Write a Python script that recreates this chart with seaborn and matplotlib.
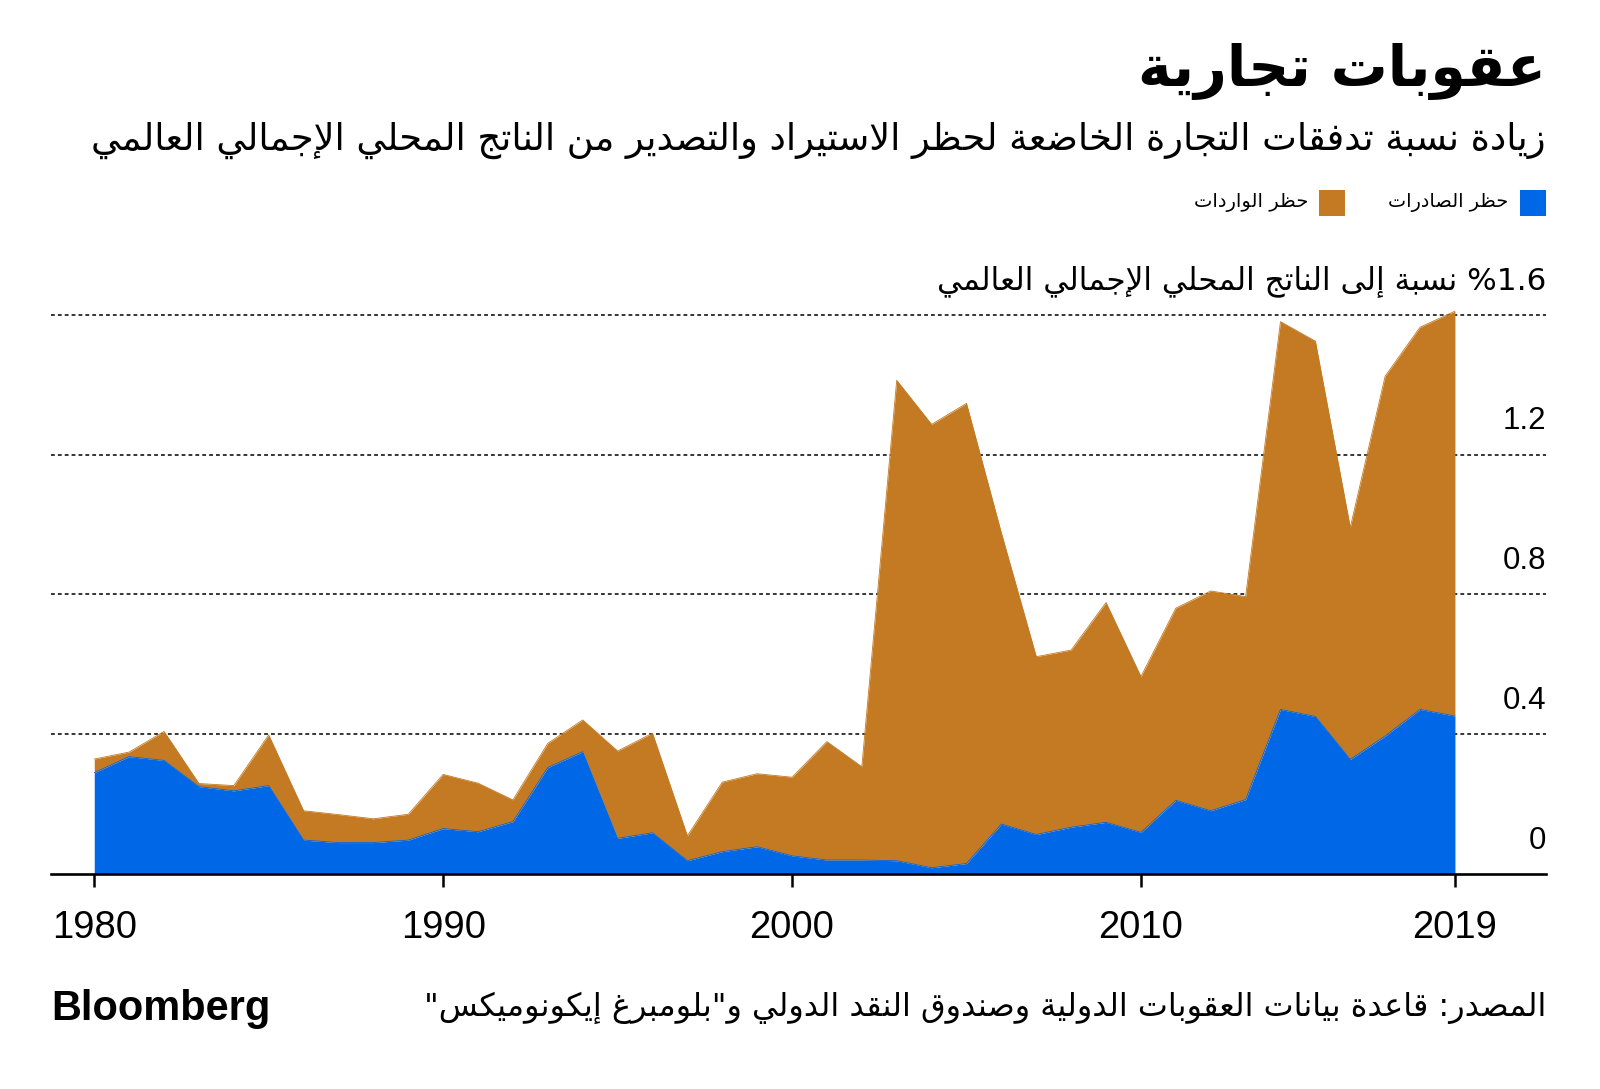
import re
import numpy as np
import pandas as pd
import matplotlib
matplotlib.use("Agg")
import matplotlib.pyplot as plt
import seaborn as sns
from matplotlib.patches import Rectangle

# ---------------- data ----------------
years = list(range(1980, 2020))
export_bans = [0.290, 0.336, 0.325, 0.250, 0.238, 0.253, 0.097, 0.090, 0.090, 0.097,
               0.130, 0.121, 0.150, 0.305, 0.350, 0.102, 0.118, 0.038, 0.064, 0.078,
               0.052, 0.040, 0.040, 0.038, 0.018, 0.030, 0.143, 0.113, 0.134, 0.148,
               0.119, 0.211, 0.181, 0.213, 0.471, 0.451, 0.328, 0.395, 0.471, 0.452]
import_bans = [0.039, 0.013, 0.083, 0.009, 0.015, 0.145, 0.084, 0.080, 0.068, 0.074,
               0.155, 0.139, 0.062, 0.069, 0.091, 0.250, 0.285, 0.071, 0.199, 0.209,
               0.225, 0.339, 0.267, 1.375, 1.269, 1.317, 0.833, 0.509, 0.507, 0.629,
               0.446, 0.550, 0.629, 0.581, 1.110, 1.074, 0.664, 1.030, 1.094, 1.159]
x_ticks = [1980, 1990, 2000, 2010, 2019]
y_ticks = [0, 0.4, 0.8, 1.2, 1.6]
y_tick_labels = ["0", "0.4", "0.8", "1.2"]
y_top_label = "%1.6 نسبة إلى الناتج المحلي الإجمالي العالمي"
title = "عقوبات تجارية"
subtitle = "زيادة نسبة تدفقات التجارة الخاضعة لحظر الاستيراد والتصدير من الناتج المحلي الإجمالي العالمي"
legend_labels = ["حظر الصادرات", "حظر الواردات"]
source = "المصدر: قاعدة بيانات العقوبات الدولية وصندوق النقد الدولي و\"بلومبرغ إيكونوميكس\""

BLUE = "#0068E6"
BROWN = "#C47A22"

# ---------------- Arabic shaping (presentation forms + visual order) ----------------
DUAL = {'ب': 0xFE8F, 'ت': 0xFE95, 'ث': 0xFE99, 'ج': 0xFE9D, 'ح': 0xFEA1, 'خ': 0xFEA5,
        'س': 0xFEB1, 'ش': 0xFEB5, 'ص': 0xFEB9, 'ض': 0xFEBD, 'ط': 0xFEC1, 'ظ': 0xFEC5,
        'ع': 0xFEC9, 'غ': 0xFECD, 'ف': 0xFED1, 'ق': 0xFED5, 'ك': 0xFED9, 'ل': 0xFEDD,
        'م': 0xFEE1, 'ن': 0xFEE5, 'ه': 0xFEE9, 'ي': 0xFEF1}
RIGHT = {'ا': 0xFE8D, 'أ': 0xFE83, 'إ': 0xFE87, 'آ': 0xFE81, 'د': 0xFEA9, 'ذ': 0xFEAB,
         'ر': 0xFEAD, 'ز': 0xFEAF, 'و': 0xFEED, 'ة': 0xFE93, 'ى': 0xFEEF, 'ؤ': 0xFE85}
LAMALEF = {'آ': 0xFEF5, 'أ': 0xFEF7, 'إ': 0xFEF9, 'ا': 0xFEFB}


def ar(s):
    items = []
    i = 0
    while i < len(s):
        c = s[i]
        if c == 'ل' and i + 1 < len(s) and s[i + 1] in LAMALEF:
            items.append(('LA', s[i + 1]))
            i += 2
        else:
            items.append(('C', c))
            i += 1

    def is_ar(it):
        return it[0] == 'LA' or it[1] in DUAL or it[1] in RIGHT

    def joins_next(it):
        return it[0] == 'C' and it[1] in DUAL

    out = []
    for k, it in enumerate(items):
        if not is_ar(it):
            out.append(it[1])
            continue
        prev = items[k - 1] if k > 0 else None
        nxt = items[k + 1] if k + 1 < len(items) else None
        pj = prev is not None and joins_next(prev)
        if it[0] == 'LA':
            out.append(chr(LAMALEF[it[1]] + (1 if pj else 0)))
            continue
        c = it[1]
        if c in DUAL:
            nj = nxt is not None and is_ar(nxt)
            off = 3 if (pj and nj) else 1 if pj else 2 if nj else 0
            out.append(chr(DUAL[c] + off))
        else:
            out.append(chr(RIGHT[c] + (1 if pj else 0)))
    shaped = ''.join(out)
    tokens = re.findall(r'[%0-9A-Za-z.]+|[^%0-9A-Za-z.]', shaped)
    return ''.join(reversed(tokens))


# ---------------- figure ----------------
sns.set_theme(style="white")
plt.rcParams['font.family'] = ['Liberation Sans', 'DejaVu Sans']
plt.rcParams['text.color'] = 'black'
plt.rcParams['xtick.color'] = 'black'
plt.rcParams['xtick.labelcolor'] = 'black'
AR_FONT = ['DejaVu Sans']

W, H = 1600, 1089
fig = plt.figure(figsize=(W / 100, H / 100), dpi=100)
fig.patch.set_facecolor('white')

ax_left, ax_right = 51, 1546
base_y, top_y = 874, 308
ax = fig.add_axes([ax_left / W, (H - base_y) / H, (ax_right - ax_left) / W, (base_y - top_y) / H])
ax.set_facecolor('white')

df = pd.DataFrame({'year': years, 'exports': export_bans, 'imports': import_bans})
df['total'] = df['exports'] + df['imports']

# gridlines
for v in y_ticks[1:]:
    ax.axhline(v, color='black', lw=1.1, linestyle=(0, (2.5, 2)), zorder=1)

ax.stackplot(df['year'], df['exports'], df['imports'], colors=[BLUE, BROWN],
             linewidth=0, zorder=2)
sns.lineplot(data=df, x='year', y='total', color=BROWN, lw=0.6, ax=ax, zorder=3)
sns.lineplot(data=df, x='year', y='exports', color=BLUE, lw=0.6, ax=ax, zorder=3)

ax.set_xlim(1978.76, 2021.61)
ax.set_ylim(0, 1.62)
ax.set_xlabel('')
ax.set_ylabel('')
for s in ['top', 'right', 'left']:
    ax.spines[s].set_visible(False)
ax.spines['bottom'].set_color('black')
ax.spines['bottom'].set_linewidth(1.9)
ax.spines['bottom'].set_zorder(5)
ax.set_xticks(x_ticks)
ax.set_xticklabels([str(t) for t in x_ticks], fontsize=27.5, color='black')
ax.tick_params(axis='x', direction='out', length=9, width=1.8, color='black', pad=17,
               bottom=True, labelcolor='black')
ax.set_yticks([])

# y labels (right side, above gridlines)
for v, lab in zip(y_ticks[:-1], y_tick_labels):
    ax.annotate(lab, xy=(1.0, v), xycoords=('axes fraction', 'data'), xytext=(0, 24),
                textcoords='offset points', ha='right', va='center', fontsize=22.5,
                color='black')

# text helpers
fig.canvas.draw()
renderer = fig.canvas.get_renderer()


def fit(t, width_px):
    bb = t.get_window_extent(renderer)
    t.set_fontsize(t.get_fontsize() * width_px / bb.width)


def ftext(xp, yp, s, **kw):
    return fig.text(xp / W, 1 - yp / H, s, color='black', **kw)


t_y = ftext(1546, 281, ar(y_top_label), ha='right', va='center', fontsize=22, family=AR_FONT)
fit(t_y, 1546 - 937)

t_title = ftext(1546, 71, ar(title), ha='right', va='center', fontsize=40,
                family=AR_FONT, fontweight='bold')
fit(t_title, 1546 - 1138)

t_sub = ftext(1546, 140, ar(subtitle), ha='right', va='center', fontsize=26, family=AR_FONT)
fit(t_sub, 1546 - 92)

# legend
for (x0, col) in [(1520, BLUE), (1319, BROWN)]:
    fig.patches.append(Rectangle((x0 / W, 1 - 216 / H), 26 / W, 26 / H,
                                 transform=fig.transFigure, facecolor=col, edgecolor='none'))
t_l1 = ftext(1508, 203, ar(legend_labels[0]), ha='right', va='center', fontsize=16, family=AR_FONT)
fit(t_l1, 1508 - 1388)
t_l2 = ftext(1308, 203, ar(legend_labels[1]), ha='right', va='center', fontsize=16, family=AR_FONT)
fit(t_l2, 1308 - 1194)

t_src = ftext(1546, 1008, ar(source), ha='right', va='center', fontsize=20, family=AR_FONT)
fit(t_src, 1546 - 429)

t_bb = ftext(51, 1009, "Bloomberg", ha='left', va='center', fontsize=30, fontweight='heavy')
fit(t_bb, 270 - 51)

fig.savefig("out.png", dpi=100, facecolor='white')
